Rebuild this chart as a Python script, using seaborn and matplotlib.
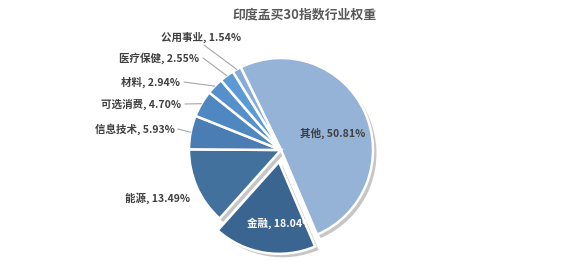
import numpy as np
import matplotlib
matplotlib.use("Agg")
import matplotlib.pyplot as plt
import seaborn as sns

title = "印度孟买30指数行业权重"
categories = ["其他", "金融", "能源", "信息技术", "可选消费", "材料", "医疗保健", "公用事业"]
weights = [50.81, 18.04, 13.49, 5.93, 4.70, 2.94, 2.55, 1.54]
colors = ["#95B3D7", "#3B6591", "#41719C", "#4A7DB3", "#4F87C0", "#5590CC", "#5B9AD5", "#86ABD9"]
explode_flags = [0, 1, 0, 0, 0, 0, 0, 0]

sns.set_theme(style="white")
plt.rcParams["font.family"] = ["Noto Sans CJK SC", "DejaVu Sans"]

W, H = 565, 269
fig = plt.figure(figsize=(W / 100, H / 100), dpi=100)
ax = fig.add_axes([0, 0, 1, 1])

cx, cy, R = 281, H - 150, 92
explode = [e * 12 for e in explode_flags]

wedges, _ = ax.pie(
    weights, colors=colors, startangle=116, counterclock=False,
    center=(cx, cy), radius=R, explode=explode, frame=True,
    wedgeprops=dict(edgecolor="white", linewidth=1.8),
    shadow=dict(ox=2.5, oy=-2.5, facecolor="#8f8f8f", edgecolor="none", alpha=0.5),
)
ax.set_xlim(0, W)
ax.set_ylim(0, H)
ax.set_aspect("equal")
ax.axis("off")

txt_color = "#404040"
fs = 7.6

def lab(i):
    return f"{categories[i]}, {weights[i]:.2f}%"

def edge_point(i):
    w = wedges[i]
    th = np.deg2rad((w.theta1 + w.theta2) / 2)
    c = w.center
    return (c[0] + w.r * np.cos(th), c[1] + w.r * np.sin(th))

# inside labels
ax.text(333, H - 133, lab(0), ha="center", va="center", fontsize=fs,
        color=txt_color, fontweight="bold", zorder=10)
ax.text(280, H - 223, lab(1), ha="center", va="center", fontsize=fs,
        color="white", fontweight="bold", zorder=10)

# outside labels: (right x, y in image coords, line start)
outside = {
    2: (190, 198, None),
    3: (175, 129, (178, 129)),
    4: (181, 104, (185, 104)),
    5: (180, 82, (184, 82)),
    6: (199, 58, (203, 58)),
    7: (241, 37, (204, 45)),
}
for i, (rx, ry, start) in outside.items():
    ax.text(rx, H - ry, lab(i), ha="right", va="center", fontsize=fs,
            color=txt_color, fontweight="bold", zorder=10)
    if start is not None:
        ex, ey = edge_point(i)
        ax.plot([start[0], ex], [H - start[1], ey], color="#a6a6a6", lw=0.8)

fig.text(305 / W, 1 - 15 / H, title, ha="center", va="center", fontsize=9.3,
         color="#595959", fontweight="bold")

fig.savefig("out.png", dpi=100, facecolor="white")
